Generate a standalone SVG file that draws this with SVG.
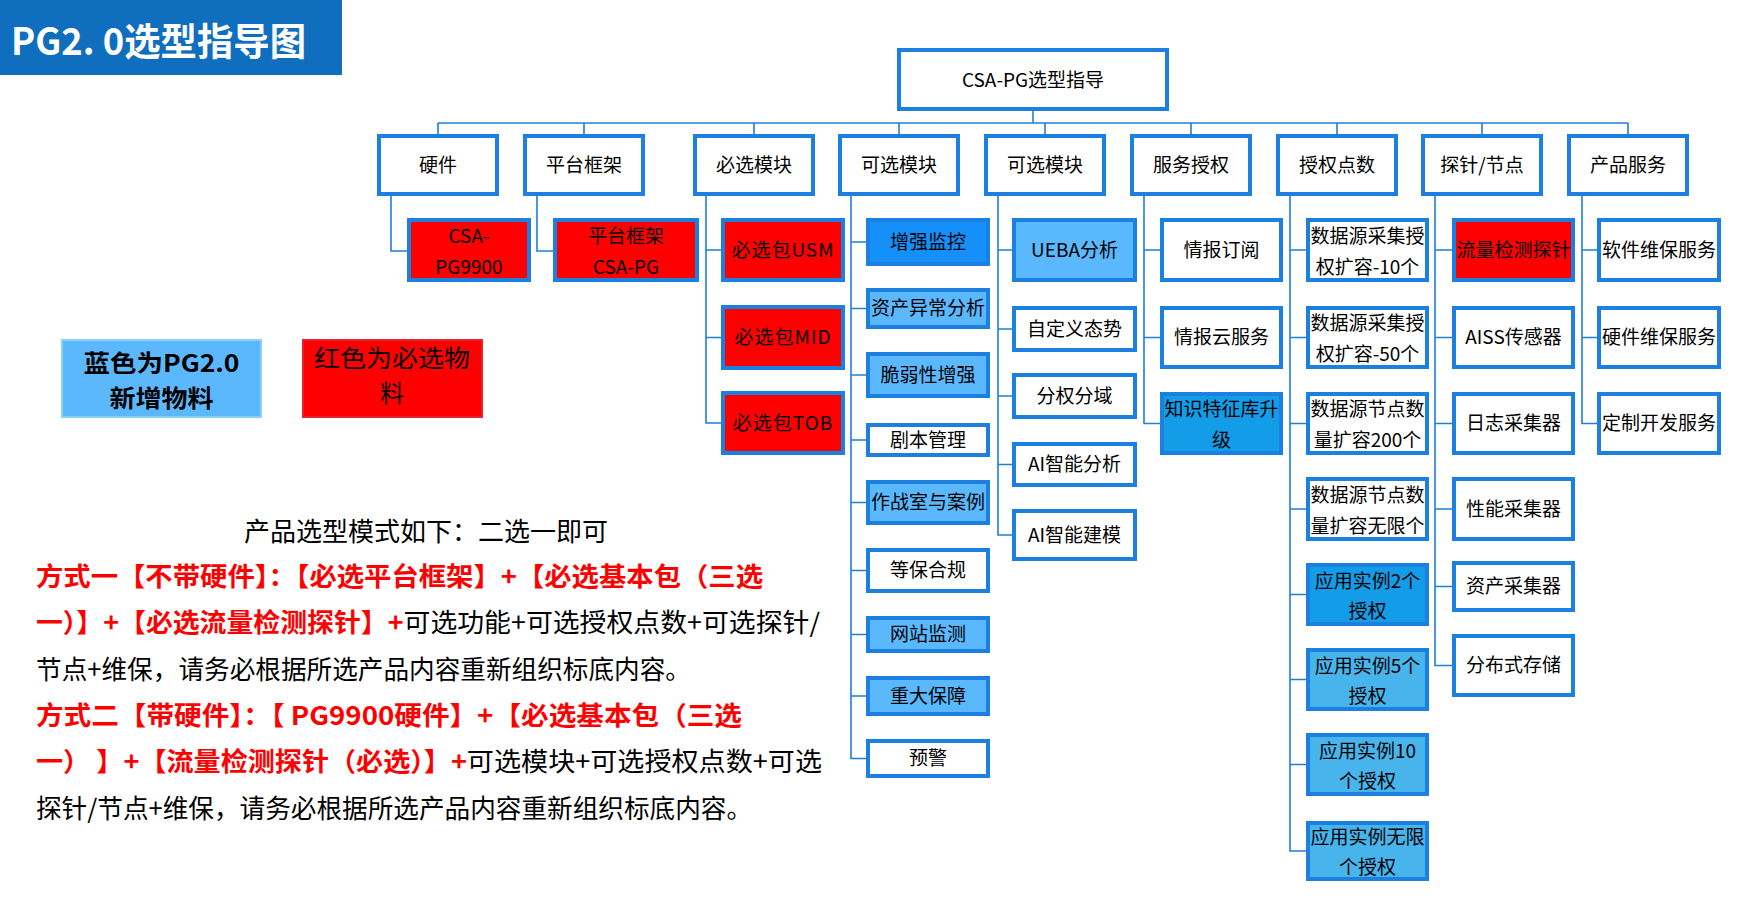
<svg xmlns="http://www.w3.org/2000/svg" width="1742" height="900" viewBox="0 0 1742 900">
<style>
text{font-family:"Noto Sans CJK SC","Noto Sans",sans-serif;fill:#000}
.box{stroke:#1b80e0;stroke-width:4;fill:#fff}
.red{fill:#ff0000}
.b1{fill:#1590fa}
.b2{fill:#5ab8fe}
.b3{fill:#139de9}
.b4{fill:#47b5ec}
.t{font-size:19px;text-anchor:middle}
.con line,.con path{stroke:#1f7fd4;stroke-width:1.6;fill:none}
.para{font-size:26px}
.r{fill:#ff0000;font-weight:bold}
</style>
<rect x="0" y="0" width="342" height="75" fill="#106ebe"/>
<text x="11" y="55" font-size="38" font-weight="bold" style="fill:#fff" textLength="295" lengthAdjust="spacingAndGlyphs">PG2. 0选型指导图</text>

<g class="con" id="connectors">
<line x1="1033" y1="111" x2="1033" y2="123"/>
<line x1="438" y1="123" x2="1628" y2="123"/>
<path d="M438 123V134M584 123V134M754 123V134M899 123V134M1045 123V134M1191 123V134M1337 123V134M1482 123V134M1628 123V134"/>
<path d="M391 196V251H407"/>
<path d="M537 196V251H553"/>
<path d="M706 196V423H721M706 250H721M706 337.5H721"/>
<path d="M851 196V758.5H866M851 242H866M851 308.5H866M851 375H866M851 440H866M851 502.5H866M851 570.5H866M851 634.5H866M851 696H866"/>
<path d="M998 196V535H1012M998 250H1012M998 329H1012M998 396H1012M998 464.5H1012"/>
<path d="M1144 196V423.5H1160M1144 250H1160M1144 337.5H1160"/>
<path d="M1290 196V851H1306M1290 250H1306M1290 337.5H1306M1290 423.5H1306M1290 509H1306M1290 594.5H1306M1290 679.5H1306M1290 764.5H1306"/>
<path d="M1435 196V665.5H1452M1435 250H1452M1435 337.5H1452M1435 423.5H1452M1435 509H1452M1435 586.5H1452"/>
<path d="M1582 196V423.5H1597M1582 250H1597M1582 337.5H1597"/>
</g>

<g id="root"><rect class="box" x="899" y="50" width="268" height="59"/><text class="t" x="1033" y="87">CSA-PG选型指导</text></g>

<g id="l1-hw"><rect class="box" x="379" y="136" width="118" height="58"/><text class="t" x="438" y="172">硬件</text></g>
<g id="l1-pf"><rect class="box" x="525" y="136" width="118" height="58"/><text class="t" x="584" y="172">平台框架</text></g>
<g id="l1-req"><rect class="box" x="695" y="136" width="118" height="58"/><text class="t" x="754" y="172">必选模块</text></g>
<g id="l1-opt1"><rect class="box" x="840" y="136" width="118" height="58"/><text class="t" x="899" y="172">可选模块</text></g>
<g id="l1-opt2"><rect class="box" x="986" y="136" width="118" height="58"/><text class="t" x="1045" y="172">可选模块</text></g>
<g id="l1-svc"><rect class="box" x="1132" y="136" width="118" height="58"/><text class="t" x="1191" y="172">服务授权</text></g>
<g id="l1-lic"><rect class="box" x="1278" y="136" width="118" height="58"/><text class="t" x="1337" y="172">授权点数</text></g>
<g id="l1-probe"><rect class="box" x="1423" y="136" width="118" height="58"/><text class="t" x="1482" y="172">探针/节点</text></g>
<g id="l1-prod"><rect class="box" x="1569" y="136" width="118" height="58"/><text class="t" x="1628" y="172">产品服务</text></g>

<g id="hw-pg9900"><rect class="box red" x="409" y="220" width="120" height="60"/><text class="t" x="469" y="243">CSA-</text><text class="t" x="469" y="274">PG9900</text></g>
<g id="pf-csapg"><rect class="box red" x="555" y="220" width="142" height="60"/><text class="t" x="626" y="243">平台框架</text><text class="t" x="626" y="274">CSA-PG</text></g>

<g id="req-usm"><rect class="box red" x="723" y="220" width="120" height="60"/><text class="t" x="783" y="257" letter-spacing="1">必选包USM</text></g>
<g id="req-mid"><rect class="box red" x="723" y="307" width="120" height="61"/><text class="t" x="783" y="344" letter-spacing="1">必选包MID</text></g>
<g id="req-tob"><rect class="box red" x="723" y="393" width="120" height="60"/><text class="t" x="783" y="430" letter-spacing="1">必选包TOB</text></g>

<g id="opt-zqjk"><rect class="box b1" x="868" y="220" width="120" height="44"/><text class="t" x="928" y="249">增强监控</text></g>
<g id="opt-zcyc"><rect class="box b2" x="868" y="290" width="120" height="37"/><text class="t" x="928" y="315">资产异常分析</text></g>
<g id="opt-crx"><rect class="box b2" x="868" y="354" width="120" height="42"/><text class="t" x="928" y="382">脆弱性增强</text></g>
<g id="opt-jbgl"><rect class="box" x="868" y="425" width="120" height="30"/><text class="t" x="928" y="447">剧本管理</text></g>
<g id="opt-zzs"><rect class="box b2" x="868" y="482" width="120" height="41"/><text class="t" x="928" y="509">作战室与案例</text></g>
<g id="opt-dbhg"><rect class="box" x="868" y="550" width="120" height="41"/><text class="t" x="928" y="577">等保合规</text></g>
<g id="opt-wzjc"><rect class="box b2" x="868" y="618" width="120" height="33"/><text class="t" x="928" y="641">网站监测</text></g>
<g id="opt-zdbz"><rect class="box b2" x="868" y="678" width="120" height="36"/><text class="t" x="928" y="703">重大保障</text></g>
<g id="opt-yj"><rect class="box" x="868" y="741" width="120" height="35"/><text class="t" x="928" y="765">预警</text></g>

<g id="opt-ueba"><rect class="box b2" x="1014" y="220" width="121" height="60"/><text class="t" x="1074.5" y="257">UEBA分析</text></g>
<g id="opt-zdy"><rect class="box" x="1014" y="308" width="121" height="42"/><text class="t" x="1074.5" y="336">自定义态势</text></g>
<g id="opt-fqfy"><rect class="box" x="1014" y="375" width="121" height="42"/><text class="t" x="1074.5" y="403">分权分域</text></g>
<g id="opt-aifx"><rect class="box" x="1014" y="444" width="121" height="41"/><text class="t" x="1074.5" y="471">AI智能分析</text></g>
<g id="opt-aijm"><rect class="box" x="1014" y="511" width="121" height="48"/><text class="t" x="1074.5" y="542">AI智能建模</text></g>

<g id="svc-qbdy"><rect class="box" x="1162" y="220" width="119" height="60"/><text class="t" x="1221.5" y="257">情报订阅</text></g>
<g id="svc-qby"><rect class="box" x="1162" y="308" width="119" height="59"/><text class="t" x="1221.5" y="344">情报云服务</text></g>
<g id="svc-zstz"><rect class="box b3" x="1162" y="394" width="119" height="59"/><text class="t" x="1221.5" y="416">知识特征库升</text><text class="t" x="1221.5" y="447">级</text></g>

<g id="lic-10"><rect class="box" x="1308" y="220" width="119" height="60"/><text class="t" x="1367.5" y="243">数据源采集授</text><text class="t" x="1367.5" y="274">权扩容-10个</text></g>
<g id="lic-50"><rect class="box" x="1308" y="308" width="119" height="59"/><text class="t" x="1367.5" y="330">数据源采集授</text><text class="t" x="1367.5" y="361">权扩容-50个</text></g>
<g id="lic-200"><rect class="box" x="1308" y="394" width="119" height="59"/><text class="t" x="1367.5" y="416">数据源节点数</text><text class="t" x="1367.5" y="447">量扩容200个</text></g>
<g id="lic-inf"><rect class="box" x="1308" y="479" width="119" height="60"/><text class="t" x="1367.5" y="502">数据源节点数</text><text class="t" x="1367.5" y="533">量扩容无限个</text></g>
<g id="lic-app2"><rect class="box b3" x="1308" y="565" width="119" height="59"/><text class="t" x="1367.5" y="588">应用实例2个</text><text class="t" x="1367.5" y="618">授权</text></g>
<g id="lic-app5"><rect class="box b4" x="1308" y="650" width="119" height="59"/><text class="t" x="1367.5" y="673">应用实例5个</text><text class="t" x="1367.5" y="703">授权</text></g>
<g id="lic-app10"><rect class="box b4" x="1308" y="735" width="119" height="59"/><text class="t" x="1367.5" y="758">应用实例10</text><text class="t" x="1367.5" y="788">个授权</text></g>
<g id="lic-appinf"><rect class="box b4" x="1308" y="823" width="119" height="56"/><text class="t" x="1367.5" y="844">应用实例无限</text><text class="t" x="1367.5" y="874">个授权</text></g>

<g id="probe-ll"><rect class="box red" x="1454" y="220" width="119" height="60"/><text class="t" x="1513.5" y="257">流量检测探针</text></g>
<g id="probe-aiss"><rect class="box" x="1454" y="308" width="119" height="59"/><text class="t" x="1513.5" y="344">AISS传感器</text></g>
<g id="probe-rz"><rect class="box" x="1454" y="394" width="119" height="59"/><text class="t" x="1513.5" y="430">日志采集器</text></g>
<g id="probe-xn"><rect class="box" x="1454" y="479" width="119" height="60"/><text class="t" x="1513.5" y="516">性能采集器</text></g>
<g id="probe-zc"><rect class="box" x="1454" y="563" width="119" height="47"/><text class="t" x="1513.5" y="593">资产采集器</text></g>
<g id="probe-fbs"><rect class="box" x="1454" y="636" width="119" height="59"/><text class="t" x="1513.5" y="672">分布式存储</text></g>

<g id="prod-rj"><rect class="box" x="1599" y="220" width="120" height="60"/><text class="t" x="1659" y="257">软件维保服务</text></g>
<g id="prod-yj"><rect class="box" x="1599" y="308" width="120" height="59"/><text class="t" x="1659" y="344">硬件维保服务</text></g>
<g id="prod-dz"><rect class="box" x="1599" y="394" width="120" height="59"/><text class="t" x="1659" y="430">定制开发服务</text></g>

<g id="legend-blue"><rect x="62" y="340" width="199" height="77" fill="#5bb8fd" stroke="#8ccffd" stroke-width="2"/><text x="161.5" y="372" font-size="24" font-weight="bold" text-anchor="middle" textLength="156" lengthAdjust="spacingAndGlyphs">蓝色为PG2.0</text><text x="161.5" y="407" font-size="24" font-weight="bold" text-anchor="middle" textLength="104" lengthAdjust="spacingAndGlyphs">新增物料</text></g>
<g id="legend-red"><rect x="303" y="340" width="179" height="77" fill="#ff0000" stroke="#e8232d" stroke-width="2"/><text x="392" y="367" font-size="24" text-anchor="middle" textLength="156" lengthAdjust="spacingAndGlyphs">红色为必选物</text><text x="392" y="402" font-size="24" text-anchor="middle">料</text></g>

<g id="notes">
<text class="para" x="244" y="541" textLength="364" lengthAdjust="spacingAndGlyphs">产品选型模式如下：二选一即可</text>
<text class="para" x="36" y="586" textLength="727" lengthAdjust="spacingAndGlyphs"><tspan class="r">方式一【不带硬件】：【必选平台框架】+【必选基本包（三选</tspan></text>
<text class="para" x="36" y="632" textLength="784" lengthAdjust="spacingAndGlyphs"><tspan class="r">一）】+【必选流量检测探针】+</tspan>可选功能+可选授权点数+可选探针/</text>
<text class="para" x="36" y="679" textLength="655" lengthAdjust="spacingAndGlyphs">节点+维保，请务必根据所选产品内容重新组织标底内容。</text>
<text class="para" x="36" y="725" textLength="706" lengthAdjust="spacingAndGlyphs"><tspan class="r">方式二【带硬件】：【 PG9900硬件】+【必选基本包（三选</tspan></text>
<text class="para" x="36" y="771" textLength="786" lengthAdjust="spacingAndGlyphs"><tspan class="r">一） 】+【流量检测探针（必选）】+</tspan>可选模块+可选授权点数+可选</text>
<text class="para" x="36" y="818" textLength="716" lengthAdjust="spacingAndGlyphs">探针/节点+维保，请务必根据所选产品内容重新组织标底内容。</text>
</g>
</svg>
